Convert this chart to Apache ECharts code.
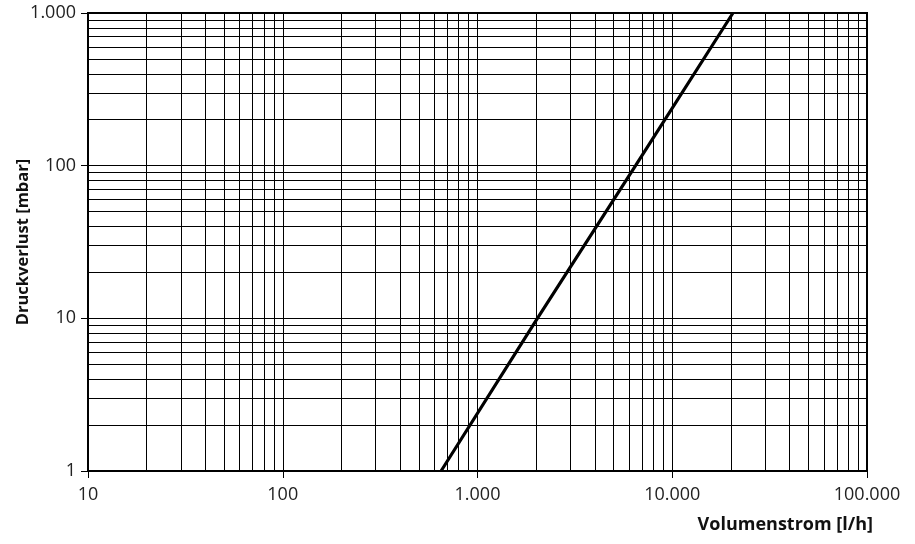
<!DOCTYPE html>
<html>
<head>
<meta charset="utf-8">
<script src="https://cdn.jsdelivr.net/npm/echarts@6/dist/echarts.min.js"></script>
<style>html,body{margin:0;padding:0;background:#fff}#c{width:915px;height:544px}</style>
</head>
<body>
<div id="c"></div>
<script>
// Data
var flowValues = [650, 2030, 6480, 20500];      // Volumenstrom [l/h]
var pressureValues = [1, 10, 100, 1000];         // Druckverlust [mbar]
var xMinorLines = [20,30,40,50,60,70,80,90,200,300,400,500,600,700,800,900,2000,3000,4000,5000,6000,7000,8000,9000,20000,30000,40000,50000,60000,70000,80000,90000];
var yMinorLines = [2,3,4,5,6,7,8,9,20,30,40,50,60,70,80,90,200,300,400,500,600,700,800,900];
var xTickLabels = {10:'10',100:'100',1000:'1.000',10000:'10.000',100000:'100.000'};
var yTickLabels = {1:'1',10:'10',100:'100',1000:'1.000'};
var xName = 'Volumenstrom [l/h]';
var yName = 'Druckverlust [mbar]';

var font = '"Open Sans", Lato, sans-serif';
var chart = echarts.init(document.getElementById('c'), null, {renderer:'canvas'});
var lineData = flowValues.map(function(v,i){return [v, pressureValues[i]];});
var minorStyle = {color:'#000', width:1, type:'solid'};
chart.setOption({
  animation:false,
  backgroundColor:'#fff',
  grid:{left:88, right:48, top:13, bottom:73, containLabel:false, outerBoundsMode:'none',
        show:true, borderColor:'#000', borderWidth:2, backgroundColor:'transparent'},
  xAxis:{
    type:'log', logBase:10, min:10, max:100000,
    name:xName, nameLocation:'end', nameGap:0, nameMoveOverlap:false,
    nameTextStyle:{fontFamily:font, fontWeight:'bold', fontSize:18, color:'#111', align:'right', verticalAlign:'top', padding:[45,-6,0,0]},
    axisLine:{show:true, lineStyle:{color:'#000', width:2}},
    axisTick:{show:true, length:7, lineStyle:{color:'#000', width:1}},
    axisLabel:{fontFamily:font, fontSize:18, color:'#222', margin:15, formatter:function(v){return xTickLabels[Math.round(v)]||'';}},
    splitLine:{show:true, lineStyle:{color:'#000', width:1}}
  },
  yAxis:{
    type:'log', logBase:10, min:1, max:1000,
    name:yName, nameLocation:'middle', nameGap:56, nameRotate:90, nameMoveOverlap:false,
    nameTextStyle:{fontFamily:font, fontWeight:'bold', fontSize:16.5, color:'#111'},
    axisLine:{show:true, lineStyle:{color:'#000', width:2}},
    axisTick:{show:true, length:7, lineStyle:{color:'#000', width:1}},
    axisLabel:{fontFamily:font, fontSize:18, color:'#222', margin:12, formatter:function(v){return yTickLabels[Math.round(v)]||'';}},
    splitLine:{show:true, lineStyle:{color:'#000', width:1}}
  },
  series:[
    {
      type:'line', data:[], silent:true,
      markLine:{silent:true, symbol:'none', animation:false, label:{show:false}, lineStyle:minorStyle,
        emphasis:{disabled:true},
        data:xMinorLines.map(function(v){return {xAxis:v};}).concat(yMinorLines.map(function(v){return {yAxis:v};}))}
    },
    {
      type:'line', data:lineData, showSymbol:false, symbol:'none',
      lineStyle:{color:'#000', width:3.2}, z:5, silent:true
    }
  ]
});
</script>
</body>
</html>
